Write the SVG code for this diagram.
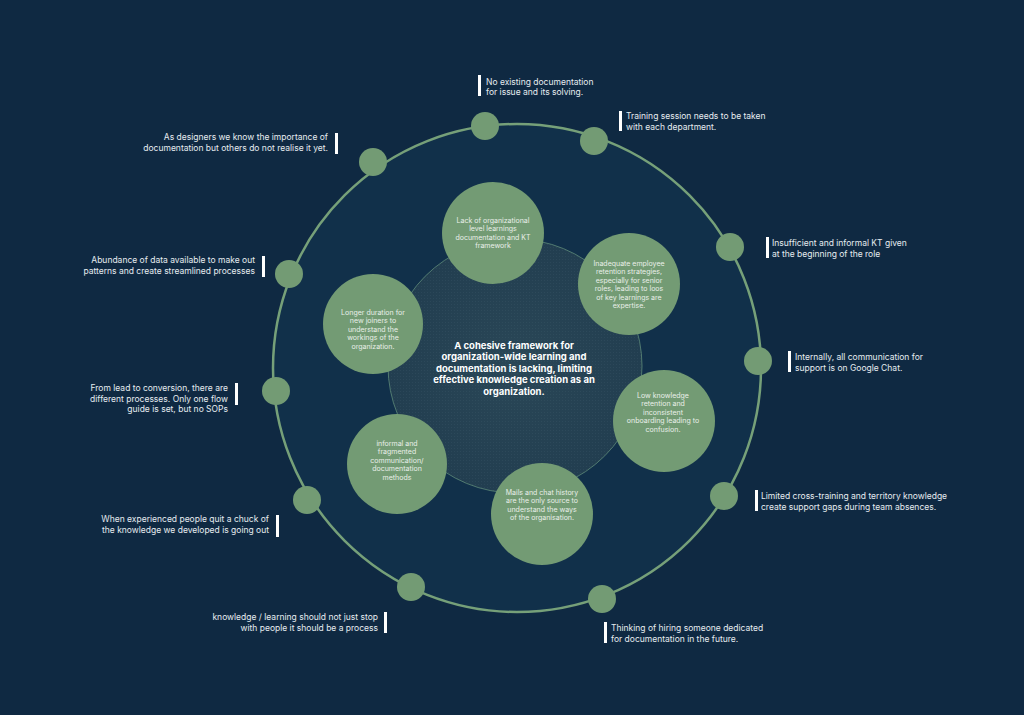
<svg xmlns="http://www.w3.org/2000/svg" width="1024" height="715" viewBox="0 0 1024 715">
<defs>
<pattern id="dots" width="3" height="3" patternUnits="userSpaceOnUse">
<circle cx="1.5" cy="1.5" r="0.4" fill="#7f9ea6" opacity="0.2"/>
</pattern>
<radialGradient id="core" cx="0.5" cy="0.5" r="0.5">
<stop offset="0" stop-color="#2a4757"/>
<stop offset="1" stop-color="#223e50"/>
</radialGradient>
</defs>
<style>
.bg{fill:#0f2942}
.ring{fill:#11304a;stroke:#76a079;stroke-width:2.5}
.dot{fill:#739b74}
.node{fill:#739b74}
.nt{font-family:Inter,"Liberation Sans",sans-serif;font-size:7px;fill:#e9efe9;text-anchor:middle}
.ct{font-family:Inter,"Liberation Sans",sans-serif;font-size:9.5px;font-weight:700;fill:#ffffff;text-anchor:middle}
.lt{font-family:Inter,"Liberation Sans",sans-serif;font-size:8.5px;fill:#e6ecf0}
.r{text-anchor:end}
.bar{fill:#ffffff}
</style>
<rect class="bg" x="0" y="0" width="1024" height="715"/>
<g id="ring">
<circle class="ring" cx="517" cy="368" r="244"/>
</g>
<g id="core-node">
<circle cx="515" cy="366" r="127" fill="url(#core)" stroke="#5e8a78" stroke-width="0.8"/>
<circle cx="515" cy="366" r="127" fill="url(#dots)"/>
<text class="ct"><tspan x="514" y="348.5">A cohesive framework for</tspan><tspan x="514" y="360">organization-wide learning and</tspan><tspan x="514" y="371.5">documentation is lacking, limiting</tspan><tspan x="514" y="383">effective knowledge creation as an</tspan><tspan x="514" y="394.5">organization.</tspan></text>
</g>
<g id="node-lack">
<circle class="node" cx="493" cy="233" r="51"/>
<text class="nt"><tspan x="493" y="222.5">Lack of organizational</tspan><tspan x="493" y="231">level learnings</tspan><tspan x="493" y="239.5">documentation and KT</tspan><tspan x="493" y="248">framework</tspan></text>
</g>
<g id="node-retention">
<circle class="node" cx="629" cy="284" r="51"/>
<text class="nt"><tspan x="629" y="265.5">Inadequate employee</tspan><tspan x="629" y="274">retention strategies,</tspan><tspan x="629" y="282.5">especially for senior</tspan><tspan x="629" y="291">roles, leading to loos</tspan><tspan x="629" y="299.5">of key learnings are</tspan><tspan x="629" y="308">expertise.</tspan></text>
</g>
<g id="node-longer">
<circle class="node" cx="373" cy="324" r="50"/>
<text class="nt"><tspan x="373" y="314.5">Longer duration for</tspan><tspan x="373" y="323">new joiners to</tspan><tspan x="373" y="331.5">understand the</tspan><tspan x="373" y="340">workings of the</tspan><tspan x="373" y="348.5">organization.</tspan></text>
</g>
<g id="node-low">
<circle class="node" cx="664" cy="421" r="51"/>
<text class="nt"><tspan x="663" y="397.5">Low knowledge</tspan><tspan x="663" y="406">retention and</tspan><tspan x="663" y="414.5">inconsistent</tspan><tspan x="663" y="423">onboarding leading to</tspan><tspan x="663" y="431.5">confusion.</tspan></text>
</g>
<g id="node-informal">
<circle class="node" cx="397" cy="464" r="50"/>
<text class="nt"><tspan x="397" y="445.5">informal and</tspan><tspan x="397" y="454">fragmented</tspan><tspan x="397" y="462.5">communication/</tspan><tspan x="397" y="471">documentation</tspan><tspan x="397" y="479.5">methods</tspan></text>
</g>
<g id="node-mails">
<circle class="node" cx="542" cy="514" r="51"/>
<text class="nt"><tspan x="542" y="494.5">Mails and chat history</tspan><tspan x="542" y="503">are the only source to</tspan><tspan x="542" y="511.5">understand the ways</tspan><tspan x="542" y="520">of the organisation.</tspan></text>
</g>
<g id="connectors">
<circle class="dot" cx="485" cy="126" r="14"/>
<circle class="dot" cx="594" cy="141" r="14"/>
<circle class="dot" cx="730" cy="247" r="14"/>
<circle class="dot" cx="758" cy="361" r="14"/>
<circle class="dot" cx="724" cy="496" r="14"/>
<circle class="dot" cx="602" cy="599" r="14"/>
<circle class="dot" cx="411" cy="587" r="14"/>
<circle class="dot" cx="307" cy="500" r="14"/>
<circle class="dot" cx="276" cy="391" r="14"/>
<circle class="dot" cx="289" cy="274" r="14"/>
<circle class="dot" cx="373" cy="162" r="14"/>
</g>
<g id="label-noexisting">
<rect class="bar" x="478" y="75" width="3" height="21"/>
<text class="lt"><tspan x="486" y="84.5">No existing documentation</tspan><tspan x="486" y="95">for issue and its solving.</tspan></text>
</g>
<g id="label-training">
<rect class="bar" x="619" y="111" width="3" height="20"/>
<text class="lt"><tspan x="626" y="119">Training session needs to be taken</tspan><tspan x="626" y="129.5">with each department.</tspan></text>
</g>
<g id="label-designers">
<rect class="bar" x="335" y="133" width="3" height="21"/>
<text class="lt r"><tspan x="328" y="140">As designers we know the importance of</tspan><tspan x="328" y="150.5">documentation but others do not realise it yet.</tspan></text>
</g>
<g id="label-abundance">
<rect class="bar" x="262" y="256" width="3" height="21"/>
<text class="lt r"><tspan x="255" y="263">Abundance of data available to make out</tspan><tspan x="255" y="273.5">patterns and create streamlined processes</tspan></text>
</g>
<g id="label-insufficient">
<rect class="bar" x="766" y="237" width="3" height="21"/>
<text class="lt"><tspan x="772" y="246">Insufficient and informal KT given</tspan><tspan x="772" y="256.5">at the beginning of the role</tspan></text>
</g>
<g id="label-internally">
<rect class="bar" x="788" y="351" width="3" height="21"/>
<text class="lt"><tspan x="795" y="360">Internally, all communication for</tspan><tspan x="795" y="370.5">support is on Google Chat.</tspan></text>
</g>
<g id="label-lead">
<rect class="bar" x="235" y="383" width="3" height="22"/>
<text class="lt r"><tspan x="228" y="391">From lead to conversion, there are</tspan><tspan x="228" y="401.5">different processes. Only one flow</tspan><tspan x="228" y="412">guide is set, but no SOPs</tspan></text>
</g>
<g id="label-limited">
<rect class="bar" x="755" y="490" width="3" height="21"/>
<text class="lt"><tspan x="761" y="499">Limited cross-training and territory knowledge</tspan><tspan x="761" y="509.5">create support gaps during team absences.</tspan></text>
</g>
<g id="label-experienced">
<rect class="bar" x="276" y="515" width="3" height="22"/>
<text class="lt r"><tspan x="269" y="522">When experienced people quit a chuck of</tspan><tspan x="269" y="532.5">the knowledge we developed is going out</tspan></text>
</g>
<g id="label-knowledge">
<rect class="bar" x="384" y="612" width="3" height="21"/>
<text class="lt r"><tspan x="378" y="620">knowledge / learning should not just stop</tspan><tspan x="378" y="630.5">with people it should be a process</tspan></text>
</g>
<g id="label-hiring">
<rect class="bar" x="604" y="622" width="3" height="21"/>
<text class="lt"><tspan x="611" y="631">Thinking of hiring someone dedicated</tspan><tspan x="611" y="641.5">for documentation in the future.</tspan></text>
</g>
</svg>
